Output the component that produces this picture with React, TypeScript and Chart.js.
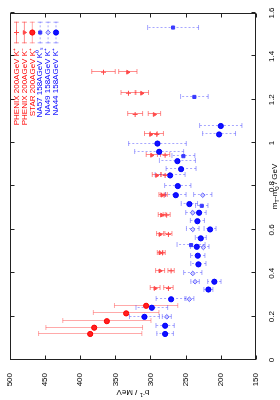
import { useEffect, useRef } from "react";
import { Chart, registerables } from "chart.js";
import { drawPoint } from "chart.js/helpers";
Chart.register(...registerables);

// m_T - m_0 (GeV) and inverse slope b^-1 (MeV) with errors
const phenixMT = [1.327, 1.23, 1.132, 1.04, 0.944, 0.851, 0.76, 0.668, 0.579, 0.494, 0.411, 0.33];
const phenixKpB = [366.8, 331.3, 321.8, 291.0, 279.2, 279.2, 280.6, 277.0, 274.5, 283.0, 270.7, 274.5];
const phenixKpErr = [16.7, 10.6, 10.6, 9.4, 6.6, 6.5, 4.5, 5.0, 5.0, 4.0, 4.5, 6.7];
const phenixKmB = [332.2, 312.3, 294.4, 299.5, 298.1, 291.0, 283.5, 284.0, 286.3, 286.3, 286.3, 293.4];
const phenixKmErr = [13.0, 9.5, 8.8, 9.0, 8.0, 6.5, 4.5, 5.0, 5.0, 4.0, 6.4, 7.0];

const starMT = [0.25, 0.215, 0.179, 0.149, 0.12];
const starB = [306.2, 334.6, 362.0, 380.0, 385.7];
const starErr = [45, 46.6, 62.7, 68.7, 73.4];

const na57MT = [1.533, 1.213, 0.94, 0.711, 0.53];
const na57B = [267.9, 237.6, 253.2, 227.1, 242.3];
const na57Err = [36.2, 19.6, 16.3, 8.8, 19.9];

const na49MT = [0.76, 0.679, 0.602, 0.519, 0.399, 0.361, 0.28, 0.199];
const na49B = [225.7, 239.9, 239.9, 224.8, 239.9, 236.6, 244.7, 276.8];
const na49Err = [13, 10, 9, 8, 13, 6, 6.4, 6.4];

const na44MT = [1.079, 1.04, 0.998, 0.96, 0.917, 0.88, 0.851, 0.802, 0.76, 0.719, 0.679, 0.64, 0.602, 0.561, 0.522, 0.481, 0.441, 0.361, 0.325, 0.28, 0.241, 0.199, 0.158, 0.12];
const na44B = [200.1, 202.5, 290.1, 287.7, 261.7, 256.5, 272.1, 261.2, 264.0, 244.7, 230.9, 233.3, 215.3, 228.5, 234.2, 232.8, 231.9, 209.2, 217.7, 270.7, 298.1, 308.6, 279.2, 279.2];
const na44Err = [30.1, 23.4, 41, 34.8, 25.6, 21.3, 21.3, 18.7, 14.6, 11.6, 10, 10, 8.5, 7.8, 9, 10.2, 10.8, 9.5, 6.4, 21.3, 22.5, 21.3, 13, 11.8];

const labels = [
  "PHENIX 200AGeV K\u207A",
  "PHENIX 200AGeV K\u207B",
  "STAR 200AGeV K\u207A",
  "NA57 158AGeV K\u2070\u209B",
  "NA49 158AGeV K\u207A",
  "NA44 158AGeV K\u207A",
];

const xTicksMin = 0, xTicksMax = 1.6, xStep = 0.2;
const yTicksMin = 150, yTicksMax = 500, yStep = 50;

const FONT = "'Liberation Sans', Arial, sans-serif";

function pts(mt: number[], b: number[], e: number[]) {
  return mt.map((m, i) => ({ x: m, y: b[i], e: e[i] }));
}

const RED_BAR = "rgba(255,50,50,0.55)";
const RED_BAR2 = "rgba(255,50,50,0.42)";
const BLUE_BAR = "rgba(60,60,255,0.45)";

const errorBarPlugin = {
  id: "errbars",
  beforeDatasetsDraw(chart: any) {
    const { ctx } = chart;
    const xs = chart.scales.x, ys = chart.scales.y;
    chart.data.datasets.forEach((ds: any) => {
      ctx.save();
      ctx.strokeStyle = ds.barColor;
      ctx.lineWidth = 1;
      ds.data.forEach((p: any) => {
        const x = Math.round(xs.getPixelForValue(p.x)) + 0.5;
        const y1 = ys.getPixelForValue(p.y - p.e);
        const y2 = ys.getPixelForValue(p.y + p.e);
        ctx.setLineDash(ds.barDash);
        ctx.beginPath();
        ctx.moveTo(x, y1);
        ctx.lineTo(x, y2);
        ctx.stroke();
        ctx.setLineDash([]);
        ctx.beginPath();
        ctx.moveTo(x - 2.5, y1);
        ctx.lineTo(x + 2.5, y1);
        ctx.moveTo(x - 2.5, y2);
        ctx.lineTo(x + 2.5, y2);
        ctx.stroke();
      });
      ctx.restore();
    });
  },
};

const framePlugin = {
  id: "frame",
  afterDraw(chart: any) {
    const { ctx, chartArea: a } = chart;
    const xs = chart.scales.x, ys = chart.scales.y;
    ctx.save();
    ctx.strokeStyle = "#222";
    ctx.lineWidth = 1;
    const L = Math.round(a.left) + 0.5, R = Math.round(a.right) - 0.5;
    const T = Math.round(a.top) + 0.5, B = Math.round(a.bottom) - 0.5;
    ctx.strokeRect(L, T, R - L, B - T);
    ctx.beginPath();
    for (let v = xTicksMin; v <= xTicksMax + 1e-9; v += xStep) {
      const x = Math.round(xs.getPixelForValue(v)) + 0.5;
      ctx.moveTo(x, B); ctx.lineTo(x, B - 4);
      ctx.moveTo(x, T); ctx.lineTo(x, T + 4);
    }
    for (let v = yTicksMin; v <= yTicksMax + 1e-9; v += yStep) {
      const y = Math.round(ys.getPixelForValue(v)) + 0.5;
      ctx.moveTo(L, y); ctx.lineTo(L + 4, y);
      ctx.moveTo(R, y); ctx.lineTo(R - 4, y);
    }
    ctx.stroke();

    // legend
    const rowY0 = 16, rowDy = 7.9;
    const textX = 352, s0 = 356.7, s1 = 378.3, sc = 367.5;
    chart.data.datasets.forEach((ds: any, i: number) => {
      const y = rowY0 + i * rowDy;
      ctx.strokeStyle = ds.barColor;
      ctx.setLineDash(ds.barDash);
      ctx.beginPath();
      ctx.moveTo(s0, y + 0.5); ctx.lineTo(s1, y + 0.5);
      ctx.stroke();
      ctx.setLineDash([]);
      ctx.beginPath();
      ctx.moveTo(s0 + 0.5, y - 2); ctx.lineTo(s0 + 0.5, y + 3);
      ctx.moveTo(s1 - 0.5, y - 2); ctx.lineTo(s1 - 0.5, y + 3);
      ctx.stroke();
      ctx.fillStyle = ds.backgroundColor;
      ctx.strokeStyle = ds.borderColor;
      ctx.lineWidth = 1;
      drawPoint(ctx, { pointStyle: ds.pointStyle, rotation: ds.rotation || 0, radius: ds.pointRadius, borderWidth: 1 } as any, sc, y + 0.5);
      ctx.fillStyle = ds.textColor;
      ctx.font = `8px ${FONT}`;
      ctx.textAlign = "right";
      ctx.textBaseline = "middle";
      ctx.fillText(ds.label, textX, y + 0.5);
    });

    // x title with subscripts
    ctx.fillStyle = "#000";
    ctx.textBaseline = "alphabetic";
    ctx.textAlign = "left";
    const big = `8px ${FONT}`, small = `6px ${FONT}`;
    const parts: [string, boolean][] = [["m", false], ["T", true], ["-m", false], ["0", true], [" / GeV", false]];
    let w = 0;
    parts.forEach(([t, s]) => { ctx.font = s ? small : big; w += ctx.measureText(t).width; });
    let cx = (a.left + a.right) / 2 - w / 2;
    const by = 277;
    parts.forEach(([t, s]) => {
      ctx.font = s ? small : big;
      ctx.fillText(t, cx, s ? by + 2 : by);
      cx += ctx.measureText(t).width;
    });

    // y title
    ctx.save();
    ctx.translate(10, (a.top + a.bottom) / 2);
    ctx.rotate(-Math.PI / 2);
    const yparts: [string, boolean][] = [["b", false], ["-1", true], [" / MeV", false]];
    w = 0;
    yparts.forEach(([t, s]) => { ctx.font = s ? small : big; w += ctx.measureText(t).width; });
    cx = -w / 2;
    yparts.forEach(([t, s]) => {
      ctx.font = s ? small : big;
      ctx.fillText(t, cx, s ? -3 : 0);
      cx += ctx.measureText(t).width;
    });
    ctx.restore();
    ctx.restore();
  },
};

export default function App() {
  const ref = useRef<HTMLCanvasElement>(null);
  useEffect(() => {
    const canvas = ref.current!;
    const mk = (label: string, data: any[], o: any) => ({ label, data, showLine: false, ...o });
    const chart = new Chart(canvas, {
      type: "scatter",
      data: {
        datasets: [
          mk(labels[0], pts(phenixMT, phenixKpB, phenixKpErr), {
            pointStyle: "cross", pointRadius: 2.5, borderColor: "#ff4848", backgroundColor: "#ff4848", borderWidth: 1,
            barColor: RED_BAR, barDash: [], textColor: "#ff0000",
          }),
          mk(labels[1], pts(phenixMT, phenixKmB, phenixKmErr), {
            pointStyle: "triangle", rotation: 180, pointRadius: 2.2, borderColor: "#ff4848", backgroundColor: "#ff4848", borderWidth: 1,
            barColor: RED_BAR, barDash: [], textColor: "#ff0000",
          }),
          mk(labels[2], pts(starMT, starB, starErr), {
            pointStyle: "circle", pointRadius: 2.6, borderColor: "#ff0000", backgroundColor: "#ff2020", borderWidth: 1,
            barColor: RED_BAR2, barDash: [], textColor: "#ff0000",
          }),
          mk(labels[3], pts(na57MT, na57B, na57Err), {
            pointStyle: "rect", pointRadius: 2.2, borderColor: "#3a3aff", backgroundColor: "#3a3aff", borderWidth: 1,
            barColor: BLUE_BAR, barDash: [2, 2], textColor: "#0000ff",
          }),
          mk(labels[4], pts(na49MT, na49B, na49Err), {
            pointStyle: "rectRot", pointRadius: 2.3, borderColor: "#6060ff", backgroundColor: "#d0d0ff", borderWidth: 1,
            barColor: BLUE_BAR, barDash: [2, 2], textColor: "#0000ff",
          }),
          mk(labels[5], pts(na44MT, na44B, na44Err), {
            pointStyle: "circle", pointRadius: 2.6, borderColor: "#0000ff", backgroundColor: "#1010ff", borderWidth: 1,
            barColor: BLUE_BAR, barDash: [2, 2], textColor: "#0000ff",
          }),
        ] as any,
      },
      options: {
        animation: false,
        responsive: false,
        devicePixelRatio: 1,
        layout: { padding: { top: 9.5, right: 13, left: 0, bottom: 0 } },
        plugins: { legend: { display: false }, tooltip: { enabled: false } },
        scales: {
          x: {
            type: "linear",
            min: xTicksMin,
            max: xTicksMax,
            grid: { display: false },
            border: { display: false },
            ticks: {
              stepSize: xStep,
              padding: 3,
              color: "#000",
              font: { family: FONT, size: 8 },
              maxRotation: 0,
              callback: (v: any) => String(Math.round(v * 10) / 10),
            },
            afterFit: (s: any) => { s.height = 24; },
          },
          y: {
            type: "linear",
            min: yTicksMin,
            max: yTicksMax,
            grid: { display: false },
            border: { display: false },
            ticks: {
              stepSize: yStep,
              padding: 5,
              color: "#000",
              font: { family: FONT, size: 8 },
            },
            afterFit: (s: any) => { s.width = 40; },
          },
        },
      } as any,
      plugins: [errorBarPlugin, framePlugin],
    });
    return () => chart.destroy();
  }, []);
  return (
    <div style={{ position: "fixed", left: 0, top: 0, width: 280, height: 400, overflow: "hidden", background: "#fff" }}>
      <canvas
        ref={ref}
        width={400}
        height={280}
        style={{
          position: "absolute",
          left: 0,
          top: 0,
          width: 400,
          height: 280,
          transformOrigin: "0 0",
          transform: "translateY(400px) rotate(-90deg)",
        }}
      />
    </div>
  );
}
